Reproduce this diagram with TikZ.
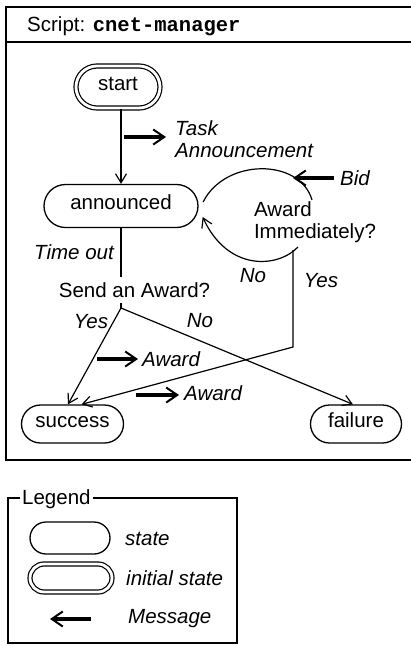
\documentclass[tikz,border=0pt]{standalone}
\usepackage{fontspec}
\setmainfont{Liberation Sans}
\setmonofont{Liberation Mono}
\usetikzlibrary{shapes.misc,arrows.meta,calc}
\begin{document}
\begin{tikzpicture}[x=1pt,y=-1pt,
  font=\fontsize{20.5}{22}\selectfont,
  stt/.style={draw, line width=1.3pt, rounded rectangle, inner sep=0pt, text height=0.72em, text depth=0pt},
  initstt/.style={stt, double, double distance=2.8pt, line width=1.2pt},
  conn/.style={line width=1.2pt, -{Straight Barb[length=9pt,width=11pt,line width=1.2pt]}},
  plain/.style={line width=1.2pt},
  msg/.style={line width=3.2pt, -{Straight Barb[length=11pt,width=15pt,line width=2pt]}},
  lbl/.style={font=\fontsize{20.5}{22}\selectfont\itshape, inner sep=0pt},
  txt/.style={inner sep=0pt},
  frame/.style={line width=1.6pt}]
\useasboundingbox (0,0) rectangle (411,646);

% outer frame
\draw[frame] (418,7) -- (6,7) -- (6,460) -- (418,460);
\draw[frame] (6,42) -- (418,42);
\node[txt, anchor=base west] (hdr) at (27,31) {Script: \textbf{\ttfamily cnet-manager}};

% states
\node[initstt, minimum width=84pt, minimum height=42pt] (start) at (118,87) {start};
\node[stt, minimum width=154pt, minimum height=43pt] (ann) at (121,206) {announced};
\node[stt, minimum width=102pt, minimum height=38pt] (succ) at (72.5,424) {success};
\node[stt, minimum width=91pt, minimum height=38pt] (fail) at (356,424) {failure};

% decision texts
\node[txt] (send) at (134.5,290) {Send an Award?};
\node[txt, align=left] (aw) at (315,222) {Award\\Immediately?};

% start -> announced
\draw[conn] (ann.north |- start.south) -- (ann.north);

% announced -> send an award
\coordinate (sendtop) at (121,277);
\coordinate (decs) at (121,303);
\coordinate (dec) at (121,308);
\draw[plain] (ann.south) -- (sendtop);
\draw[plain] (decs) -- (dec);
\draw[conn] (dec) -- ($(succ.north)+(-4.5,0)$);
\draw[conn] (dec) -- ($(fail.north)+(-3,0)$);
\node[lbl] (tol) at (74,252) {Time out};
\node[lbl] (y1) at (91,322) {Yes};
\node[lbl] (n1) at (200,321) {No};

% loop on announced
\coordinate (lpB) at (312,200);
\draw[plain] ($(ann.east)+(4.5,-4)$) .. controls (225,158) and (300,158) .. (lpB);
\coordinate (lpC) at (298,247);
\draw[conn] (lpC) .. controls (278,268) and (228,272) .. ($(ann.east)+(4,11)$);
\node[lbl] (n2) at (253,276) {No};

% yes from Award Immediately?
\coordinate (awy) at (293,250);
\coordinate (awc) at (293,347);
\draw[conn] (awy) -- (awc) -- ($(succ.north)+(9,0)$);
\node[lbl] (y2) at (321,281) {Yes};

% message arrows
\coordinate (m1a) at (124,137); \coordinate (m1b) at (166,137);
\draw[msg] (m1a) -- (m1b);
\node[lbl, align=left, anchor=west] (taskl) at (175,139) {Task\\Announcement};

\coordinate (m2a) at (334,178); \coordinate (m2b) at (293,178);
\draw[msg] (m2a) -- (m2b);
\node[lbl, anchor=west] (bidl) at (340,178) {Bid};

\coordinate (m3a) at (97,359); \coordinate (m3b) at (138,359);
\draw[msg] (m3a) -- (m3b);
\node[lbl, anchor=west] (aw1) at (142,359) {Award};

\coordinate (m4a) at (136,395); \coordinate (m4b) at (179,395);
\draw[msg] (m4a) -- (m4b);
\node[lbl, anchor=west] (aw2) at (184,393) {Award};

% legend
\draw[frame] (8,498) rectangle (237,643);
\node[fill=white, inner xsep=2pt, inner ysep=0pt, anchor=base west] (leg) at (20,504) {Legend};
\node[stt, minimum width=80pt, minimum height=32pt] (ls) at (70,538) {};
\node[lbl, anchor=west] (lsl) at (125,539) {state};
\node[initstt, minimum width=82pt, minimum height=28pt] (li) at (71,578) {};
\node[lbl, anchor=west] (lil) at (126,578) {initial state};
\coordinate (lma) at (91,619); \coordinate (lmb) at (50,619);
\draw[msg] (lma) -- (lmb);
\node[lbl, anchor=west] (lml) at (128,619) {Message};
\end{tikzpicture}
\end{document}
